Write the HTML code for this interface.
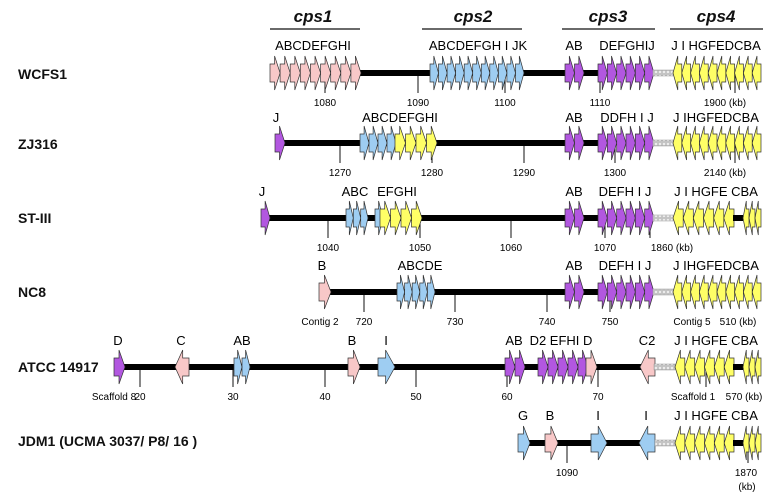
<!DOCTYPE html>
<html><head><meta charset="utf-8">
<style>
html,body{margin:0;padding:0;background:#fff;}
svg{display:block;font-family:"Liberation Sans",Arial,sans-serif;}
</style></head>
<body>
<svg id="s" width="781" height="502" viewBox="0 0 781 502" xmlns="http://www.w3.org/2000/svg">
<defs>
<pattern id="hatch" width="4" height="4" patternUnits="userSpaceOnUse">
<rect width="4" height="4" fill="#eee"/><circle cx="2" cy="2" r="1.2" fill="none" stroke="#888" stroke-width="0.6"/>
</pattern>
</defs>
<g font-size="14" font-weight="bold" fill="#111">
<text x="18" y="79">WCFS1</text>
<text x="18" y="149">ZJ316</text>
<text x="18" y="223">ST-III</text>
<text x="18" y="297">NC8</text>
<text x="18" y="372">ATCC 14917</text>
<text x="18" y="446">JDM1 (UCMA 3037/ P8/ 16 )</text>
</g>
<g font-size="17" font-style="italic" font-weight="bold" text-anchor="middle" fill="#111">
<text x="313" y="22">cps1</text><text x="473" y="22">cps2</text>
<text x="608" y="22">cps3</text><text x="716" y="22">cps4</text>
</g>
<g stroke="#111" stroke-width="1.2">
<line x1="270" y1="29" x2="360" y2="29"/><line x1="422" y1="29" x2="522" y2="29"/>
<line x1="562" y1="29" x2="655" y2="29"/><line x1="670" y1="29" x2="763" y2="29"/>
</g>
<g id="g"></g>
</svg>
<script>
const g=document.getElementById('g');
const C={p:'#f8c8c8',b:'#9ecdf2',u:'#b257e0',y:'#ffff66'};
let out='';
function line(x1,x2,y){out+=`<rect x="${x1}" y="${y-3}" width="${x2-x1}" height="6" fill="#000"/>`;}
function hatch(x1,x2,y){out+=`<rect x="${x1}" y="${y-3}" width="${x2-x1}" height="6" fill="url(#hatch)" stroke="#999" stroke-width="0.5"/>`;}
function arrow(x1,x2,y,dir,col){
 const w=x2-x1, hl=Math.min(w*0.55,10), bh=9, hh=17;
 let p;
 if(dir>0)p=[[x1,y-bh],[x2-hl,y-bh],[x2-hl,y-hh],[x2,y],[x2-hl,y+hh],[x2-hl,y+bh],[x1,y+bh]];
 else p=[[x2,y-bh],[x1+hl,y-bh],[x1+hl,y-hh],[x1,y],[x1+hl,y+hh],[x1+hl,y+bh],[x2,y+bh]];
 out+=`<polygon points="${p.map(a=>a.map(v=>v.toFixed(1)).join(',')).join(' ')}" fill="${C[col]}" stroke="#333" stroke-width="0.7"/>`;
}
function run(x1,x2,n,y,dir,col){const w=(x2-x1)/n;
 if(dir>0)for(let i=n-1;i>=0;i--)arrow(x1+i*w,x1+(i+1)*w,y,dir,col);
 else for(let i=0;i<n;i++)arrow(x1+i*w,x1+(i+1)*w,y,dir,col);}
function tick(x,y,lab,dx){out+=`<line x1="${x}" y1="${y}" x2="${x}" y2="${y+20}" stroke="#111" stroke-width="1"/>`;
 if(lab)out+=`<text x="${x+(dx||0)}" y="${y+33}" font-size="10" text-anchor="middle">${lab}</text>`;}
function txt(x,y,s,sz,anc){out+=`<text x="${x}" y="${y}" font-size="${sz||13}" text-anchor="${anc||'middle'}">${s}</text>`;}
function cps34(y,yel){
 line(583,598,y);run(565,584,2,y,1,'u');run(598,654,6,y,1,'u');hatch(653,673,y);
 if(yel==='full')run(673,761,10,y,-1,'y');
 else{run(673,734,6,y,-1,'y');line(733,743,y);run(743,761,3,y,-1,'y');}
}
let y=73;
tick(325,y,'1080');tick(418,y,'1090');tick(505,y,'1100');tick(600,y,'1110');tick(735,y,'1900 (kb)',-10);
line(358,566,y);run(270,361,9,y,1,'p');run(430,524,11,y,1,'b');cps34(y,'full');
txt(313,50,'ABCDEFGHI');txt(478,50,'ABCDEFGH I JK');txt(574,50,'AB');txt(627,50,'DEFGHIJ');txt(716,50,'J I HGFEDCBA');
y=143;
tick(340,y,'1270');tick(432,y,'1280');tick(524,y,'1290');tick(615,y,'1300');tick(735,y,'2140 (kb)',-10);
line(280,566,y);arrow(275,285,y,1,'u');run(360,396,4,y,1,'b');run(395,437,4,y,1,'y');cps34(y,'full');
txt(276,122,'J');txt(400,122,'ABCDEFGHI');txt(574,122,'AB');txt(627,122,'DDFH I J');txt(716,122,'J IHGFEDCBA');
y=218;
tick(328,y,'1040');tick(420,y,'1050');tick(511,y,'1060');tick(605,y,'1070');tick(650,y,'1860 (kb)',22);
line(266,566,y);arrow(261,270,y,1,'u');run(346,368,3,y,1,'b');arrow(375,383,y,1,'b');run(380,422,4,y,1,'y');cps34(y,'split');
txt(262,196,'J');txt(355,196,'ABC');txt(397,196,'EFGHI');txt(574,196,'AB');txt(625,196,'DEFH I J');txt(716,196,'J I HGFE CBA');
y=292;
tick(364,y,'720');tick(455,y,'730');tick(547,y,'740');tick(610,y,'750');
txt(320,325,'Contig 2',10);txt(692,325,'Contig 5',10);txt(738,325,'510 (kb)',10);
line(325,566,y);arrow(319,331,y,1,'p');run(397,435,5,y,1,'b');cps34(y,'full');
txt(322,270,'B');txt(420,270,'ABCDE');txt(574,270,'AB');txt(625,270,'DEFH I J');txt(716,270,'J IHGFEDCBA');
y=367;
tick(140,y,'20');tick(233,y,'30');tick(325,y,'40');tick(416,y,'50');tick(507,y,'60');tick(598,y,'70');
txt(114,400,'Scaffold 8',10);txt(693,400,'Scaffold 1',10);tick(706,y,'');txt(744,400,'570 (kb)',10);
line(118,645,y);arrow(114,125,y,1,'u');arrow(175,189,y,-1,'p');run(234,250,2,y,1,'b');arrow(348,360,y,1,'p');arrow(378,395,y,1,'b');
run(505,525,2,y,1,'u');run(538,588,5,y,1,'u');arrow(586,597,y,1,'p');arrow(640,655,y,-1,'p');hatch(654,675,y);
run(675,734,6,y,-1,'y');line(733,743,y);run(743,761,3,y,-1,'y');
txt(118,345,'D');txt(181,345,'C');txt(242,345,'AB');txt(352,345,'B');txt(386,345,'I');txt(514,345,'AB');txt(561,345,'D2 EFHI D');txt(647,345,'C2');txt(716,345,'J I HGFE CBA');
y=443;
tick(567,y,'1090');tick(748,y,'1870',-2);txt(747,490,'(kb)',10);
line(523,660,y);arrow(518,530,y,1,'b');arrow(545,558,y,1,'p');arrow(591,607,y,1,'b');arrow(639,655,y,-1,'b');hatch(655,675,y);
run(675,734,6,y,-1,'y');line(733,743,y);run(743,761,3,y,-1,'y');
txt(523,420,'G');txt(550,420,'B');txt(598,420,'I');txt(646,420,'I');txt(716,420,'J I HGFE CBA');
g.innerHTML=out;
</script>
</body></html>
